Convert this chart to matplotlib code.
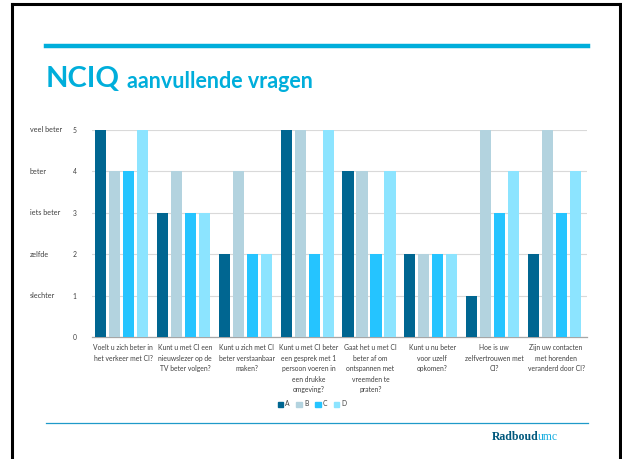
import matplotlib.pyplot as plt
import matplotlib.transforms as mtrans
import numpy as np
from matplotlib.lines import Line2D
from matplotlib.patches import Patch

questions = [
    "Voelt u zich beter in\nhet verkeer met CI?",
    "Kunt u met CI een\nnieuwslezer op de\nTV beter volgen?",
    "Kunt u zich met CI\nbeter verstaanbaar\nmaken?",
    "Kunt u met CI beter\neen gesprek met 1\npersoon voeren in\neen drukke\nomgeving?",
    "Gaat het u met CI\nbeter af om\nontspannen met\nvreemden te\npraten?",
    "Kunt u nu beter\nvoor uzelf\nopkomen?",
    "Hoe is uw\nzelfvertrouwen met\nCI?",
    "Zijn uw contacten\nmet horenden\nveranderd door CI?",
]
series_names = ["A", "B", "C", "D"]
values_a = [5, 3, 2, 5, 4, 2, 1, 2]
values_b = [4, 4, 4, 5, 4, 2, 5, 5]
values_c = [4, 3, 2, 2, 2, 2, 3, 3]
values_d = [5, 3, 2, 5, 4, 2, 4, 4]
scale_labels = ["slechter", "zelfde", "iets beter", "beter", "veel beter"]

colors = ["#006691", "#b3d3df", "#25c4ff", "#8ce4ff"]
text_color = "#404040"
cyan = "#00aedb"
small = 4.9

plt.rcParams["font.family"] = ["Lato", "DejaVu Sans"]

W, H = 622, 459
fig = plt.figure(figsize=(W / 100, H / 100), dpi=100)

# slide frame
fig.add_artist(Line2D([12 / W, 12 / W], [0, 1 - 4 / H], color="black", lw=2.2))
fig.add_artist(Line2D([620 / W, 620 / W], [0, 1 - 4 / H], color="black", lw=2.2))
fig.add_artist(Line2D([12 / W, 620 / W], [1 - 4 / H, 1 - 4 / H], color="black", lw=2.2))

# header line + title
fig.add_artist(Line2D([46 / W, 588 / W], [1 - 46 / H, 1 - 46 / H], color=cyan, lw=3.2))
t = fig.text(46 / W, 1 - 79 / H, "NCIQ", color=cyan, fontsize=21, fontweight="bold",
             va="center", ha="left")
fig.canvas.draw()
bb = t.get_window_extent()
fig.text((bb.x1 + 7) / W, 1 - 81 / H, "aanvullende vragen", color=cyan, fontsize=15.5,
         fontweight="bold", va="center", ha="left")

# footer
fig.add_artist(Line2D([46 / W, 588 / W], [1 - 423 / H, 1 - 423 / H], color="#1f9ac9", lw=0.9))
r = fig.text(492 / W, 1 - 437 / H, "Radboud", color="#00587c", fontsize=8.5,
             family="Liberation Serif", fontweight="bold", va="center", ha="left")
fig.canvas.draw()
rb = r.get_window_extent()
fig.text((rb.x1 - 1) / W, 1 - 437 / H, "umc", color="#19aee0", fontsize=8.5,
         family="Liberation Serif", va="center", ha="left")

# chart
ax = fig.add_axes([92 / W, 1 - 337 / H, (587 - 92) / W, (337 - 130) / H])
x = np.arange(len(questions))
slot = 0.226
width = 0.18
all_values = [values_a, values_b, values_c, values_d]
for i, (name, vals) in enumerate(zip(series_names, all_values)):
    ax.bar(x - 2 * slot + i * slot, vals, width=width, align="edge",
           color=colors[i], label=name, zorder=3)

ax.set_xlim(-0.5, len(questions) - 0.5)
ax.set_ylim(0, 5)
ax.set_yticks(range(6))
ax.yaxis.grid(True, color="#d9d9d9", lw=0.8, zorder=0)
ax.set_xticks(x)
ax.set_xticklabels(questions, fontsize=small, color=text_color, linespacing=1.6, va="top")
ax.tick_params(axis="both", length=0, labelsize=small, labelcolor=text_color)
ax.tick_params(axis="y", pad=11)
ax.tick_params(axis="x", pad=5)
for s in ["left", "right", "top"]:
    ax.spines[s].set_visible(False)
ax.spines["bottom"].set_color("#a6a6a6")
ax.spines["bottom"].set_linewidth(0.9)

# scale words at the left edge of the slide, aligned with the ticks
blend = mtrans.blended_transform_factory(fig.transFigure, ax.transData)
for k, lab in enumerate(scale_labels):
    fig.text(30 / W, k + 1, lab, transform=blend, fontsize=small + 0.3,
             color=text_color, va="center", ha="left")

handles = [Patch(color=c) for c in colors]
fig.legend(handles, series_names, loc="center", bbox_to_anchor=(312 / W, 1 - 404 / H),
           ncol=4, frameon=False, fontsize=small, handlelength=0.8, handleheight=0.8,
           handletextpad=0.3, columnspacing=1.0, labelcolor=text_color)

fig.savefig("out.png", dpi=100)
